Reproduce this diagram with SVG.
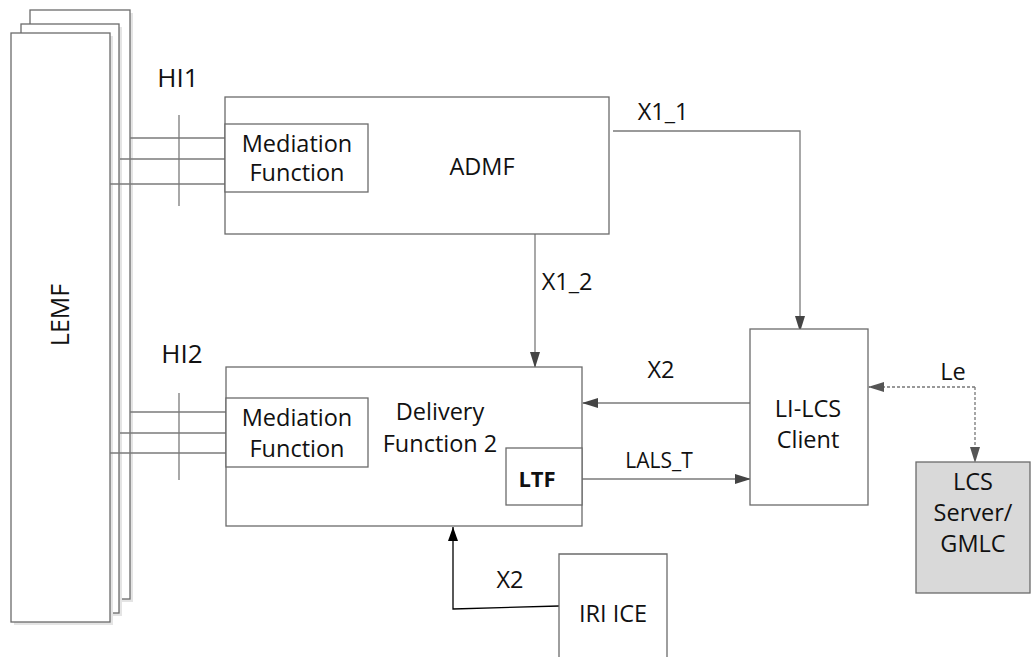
<svg xmlns="http://www.w3.org/2000/svg" width="1033" height="657" viewBox="0 0 1033 657">
<defs>
<style>
.box{fill:#fff;stroke:#6b6b6b;stroke-width:1.3}
.sh{fill:#e4e4e4}
.ln{fill:none;stroke:#7a7a7a;stroke-width:1.3}
.t{font-family:"Open Sans","Liberation Sans",sans-serif;font-size:23.5px;fill:#111;text-anchor:middle}
</style>
<marker id="ah" markerWidth="16" markerHeight="10" refX="15" refY="5" orient="auto" markerUnits="userSpaceOnUse">
<path d="M0,0 L16,5 L0,10 Z" fill="#444"/>
</marker>
<marker id="ahb" markerWidth="14" markerHeight="10" refX="14" refY="5" orient="auto" markerUnits="userSpaceOnUse">
<path d="M0,0 L14,5 L0,10 Z" fill="#000"/>
</marker>
<marker id="ahd" markerWidth="16" markerHeight="10" refX="15" refY="5" orient="auto" markerUnits="userSpaceOnUse">
<path d="M0,0 L16,5 L0,10 Z" fill="#555"/>
</marker>
</defs>
<rect width="1033" height="657" fill="#fff"/>
<g id="lemf">
<rect class="sh" x="33" y="13" width="100" height="589"/>
<rect class="box" x="30" y="10" width="100" height="589"/>
<rect class="sh" x="24" y="27" width="98" height="589"/>
<rect class="box" x="21" y="24" width="98" height="589"/>
<rect class="sh" x="14" y="36" width="99" height="589"/>
<rect class="box" x="11" y="33" width="99" height="589"/>
<text class="t" transform="translate(69,315) rotate(-90)" style="font-size:25px">LEMF</text>
</g>
<g id="connectors">
<line class="ln" x1="130" y1="138" x2="226" y2="138"/>
<line class="ln" x1="120" y1="159" x2="226" y2="159"/>
<line class="ln" x1="110" y1="184" x2="226" y2="184"/>
<line class="ln" x1="179" y1="115" x2="179" y2="206" stroke="#999"/>
<line class="ln" x1="130" y1="412" x2="226" y2="412"/>
<line class="ln" x1="120" y1="433" x2="226" y2="433"/>
<line class="ln" x1="110" y1="453" x2="226" y2="453"/>
<line class="ln" x1="179" y1="393" x2="179" y2="480" stroke="#999"/>
<text class="t" x="178" y="87" style="font-size:26px">HI1</text>
<text class="t" x="182" y="363" style="font-size:26px">HI2</text>
<polyline class="ln" points="613,131 800,131 800,331" marker-end="url(#ah)"/>
<text class="t" x="663" y="120">X1_1</text>
<line class="ln" x1="535" y1="234" x2="535" y2="367" marker-end="url(#ah)"/>
<text class="t" x="567" y="290">X1_2</text>
<line class="ln" x1="750" y1="403" x2="583" y2="403" marker-end="url(#ah)"/>
<text class="t" x="661" y="378">X2</text>
<line class="ln" x1="582" y1="479" x2="750" y2="479" marker-end="url(#ah)"/>
<text class="t" x="659" y="468" style="font-size:21px">LALS_T</text>
<polyline fill="none" stroke="#777" stroke-width="1.3" stroke-dasharray="3,2" points="975,387 975,462" marker-end="url(#ahd)"/>
<line stroke="#777" stroke-width="1.3" stroke-dasharray="3,2" x1="975" y1="387" x2="869" y2="387" marker-end="url(#ahd)"/>
<text class="t" x="953" y="380">Le</text>
<polyline fill="none" stroke="#000" stroke-width="1.3" points="559,606 453,609 453,527" marker-end="url(#ahb)"/>
<text class="t" x="510" y="588">X2</text>
</g>
<g id="admf">
<rect class="box" x="225" y="97" width="384" height="137"/>
<text class="t" x="482" y="175">ADMF</text>
</g>
<g id="mf1">
<rect class="box" x="225" y="124" width="143" height="68"/>
<text class="t" x="297" y="152">Mediation</text>
<text class="t" x="297" y="181">Function</text>
</g>
<g id="delivery">
<rect class="box" x="226" y="367" width="356" height="159"/>
<text class="t" x="440" y="420">Delivery</text>
<text class="t" x="440" y="452">Function 2</text>
</g>
<g id="mf2">
<rect class="box" x="226" y="398" width="142" height="69"/>
<text class="t" x="297" y="426">Mediation</text>
<text class="t" x="297" y="457">Function</text>
</g>
<g id="ltf">
<rect class="box" x="506" y="448" width="76" height="57"/>
<text class="t" x="537" y="487" style="font-weight:bold;font-size:22px">LTF</text>
</g>
<g id="lilcs">
<rect class="box" x="750" y="329" width="118" height="176"/>
<text class="t" x="808" y="417">LI-LCS</text>
<text class="t" x="808" y="448">Client</text>
</g>
<g id="lcs">
<rect x="916" y="462" width="114" height="131" fill="#d9d9d9" stroke="#6b6b6b" stroke-width="1.3"/>
<text class="t" x="973" y="490">LCS</text>
<text class="t" x="973" y="521">Server/</text>
<text class="t" x="973" y="552">GMLC</text>
</g>
<g id="iri">
<polyline class="box" points="559,660 559,554 667,554 667,660"/>
<text class="t" x="613" y="622">IRI ICE</text>
</g>
</svg>
